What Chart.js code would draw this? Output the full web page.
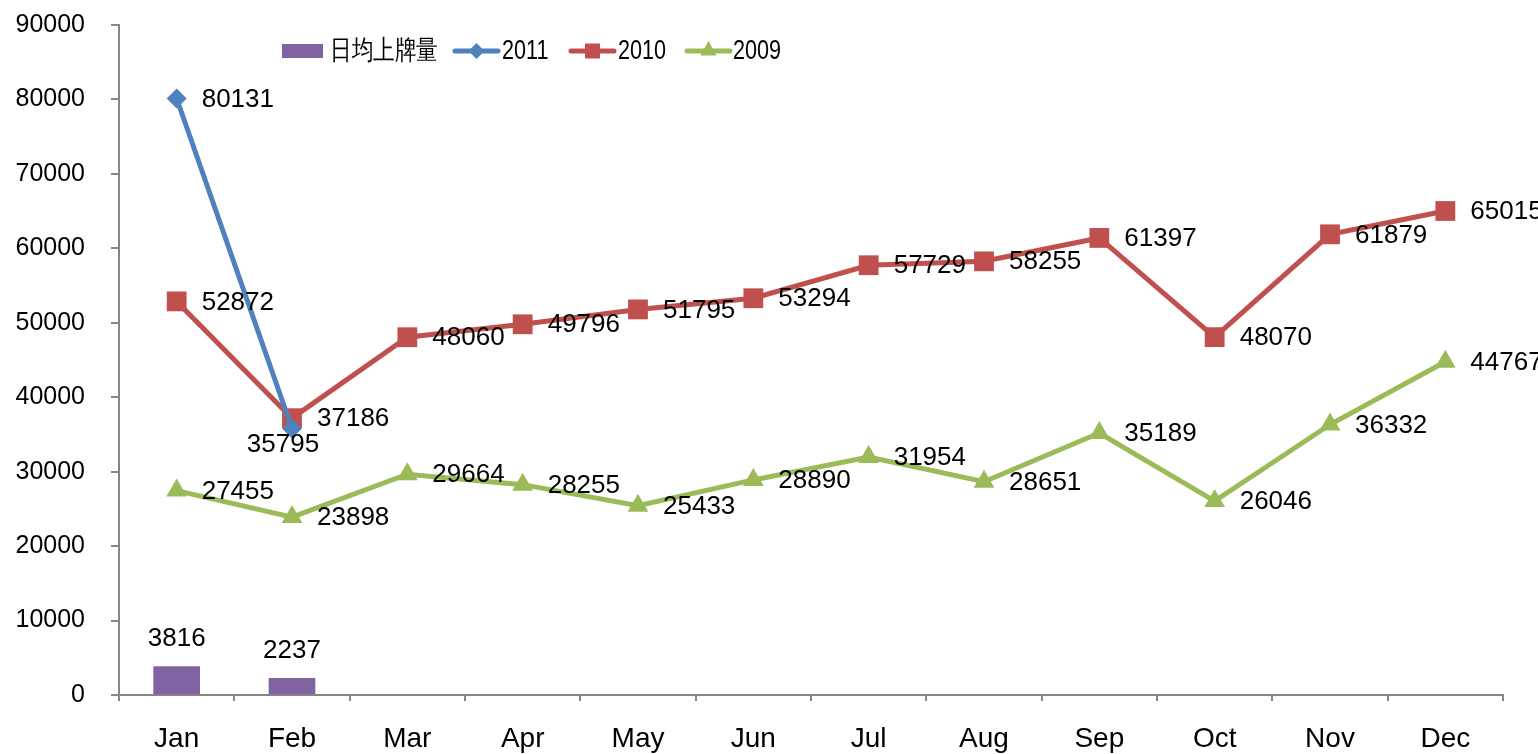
<!DOCTYPE html>
<html>
<head>
<meta charset="utf-8">
<script src="https://cdn.jsdelivr.net/npm/chart.js@4.4.1/dist/chart.umd.min.js"></script>
<style>
  html, body { margin: 0; padding: 0; background: #fff; }
  #wrap { width: 1538px; height: 754px; position: relative; }
</style>
</head>
<body>
<div id="wrap"><canvas id="chart"></canvas></div>
<script>
// chart data
const months = ['Jan', 'Feb', 'Mar', 'Apr', 'May', 'Jun', 'Jul', 'Aug', 'Sep', 'Oct', 'Nov', 'Dec'];
const dailyPlates = [3816, 2237, null, null, null, null, null, null, null, null, null, null];
const y2011 = [80131, 35795, null, null, null, null, null, null, null, null, null, null];
const y2010 = [52872, 37186, 48060, 49796, 51795, 53294, 57729, 58255, 61397, 48070, 61879, 65015];
const y2009 = [27455, 23898, 29664, 28255, 25433, 28890, 31954, 28651, 35189, 26046, 36332, 44767];
const yTicks = [0, 10000, 20000, 30000, 40000, 50000, 60000, 70000, 80000, 90000];

const FONT = 'Arial, "Liberation Sans", sans-serif';
const AXIS = '#868686';

// simple value labels, drawn next to each point / above each bar
const valueLabels = {
  id: 'valueLabels',
  afterDatasetsDraw(chart) {
    const ctx = chart.ctx;
    ctx.save();
    ctx.font = '26px ' + FONT;
    ctx.fillStyle = '#000';
    chart.data.datasets.forEach((ds, di) => {
      const meta = chart.getDatasetMeta(di);
      meta.data.forEach((el, i) => {
        const v = ds.data[i];
        if (v == null) return;
        const txt = String(v);
        if (ds.type === 'bar') {
          ctx.textAlign = 'center';
          ctx.textBaseline = 'middle';
          ctx.fillText(txt, el.x, el.y - 28);
        } else if (ds.labelBelow && ds.labelBelow[i]) {
          ctx.textAlign = 'center';
          ctx.textBaseline = 'middle';
          ctx.fillText(txt, el.x - 9, el.y + 16);
        } else {
          ctx.textAlign = 'left';
          ctx.textBaseline = 'middle';
          ctx.fillText(txt, el.x + 25, el.y + 1);
        }
      });
    });
    ctx.restore();
  }
};

// legend in excel style: line + marker
function drawMarker(ctx, style, x, y, r, color) {
  ctx.fillStyle = color;
  ctx.beginPath();
  if (style === 'rectRot') {
    ctx.moveTo(x, y - r); ctx.lineTo(x + r, y); ctx.lineTo(x, y + r); ctx.lineTo(x - r, y);
  } else if (style === 'rect') {
    ctx.rect(x - r, y - r, 2 * r, 2 * r);
  } else if (style === 'triangle') {
    ctx.moveTo(x, y - r); ctx.lineTo(x + r, y + r * 0.8); ctx.lineTo(x - r, y + r * 0.8);
  }
  ctx.closePath();
  ctx.fill();
}

const excelLegend = {
  id: 'excelLegend',
  afterDraw(chart) {
    const ctx = chart.ctx;
    const y = 51;
    const items = [
      { x: 282, ds: 0, textX: 330 },
      { x: 455, ds: 1, textX: 502 },
      { x: 571, ds: 2, textX: 618 },
      { x: 687, ds: 3, textX: 733 }
    ];
    ctx.save();
    items.forEach(it => {
      const ds = chart.data.datasets[it.ds];
      if (ds.type === 'bar') {
        ctx.fillStyle = ds.backgroundColor;
        ctx.fillRect(it.x, y - 7, 41, 14);
      } else {
        ctx.strokeStyle = ds.borderColor;
        ctx.lineWidth = 5;
        ctx.lineCap = 'round';
        ctx.beginPath();
        ctx.moveTo(it.x, y); ctx.lineTo(it.x + 43, y);
        ctx.stroke();
        drawMarker(ctx, ds.pointStyle, it.x + 21.5, y - (ds.pointStyle === 'triangle' ? 2 : 0), ds.pointStyle === 'rect' ? 7.5 : 8, ds.borderColor);
      }
      ctx.save();
      ctx.translate(it.textX, y);
      ctx.scale(0.8, 1);
      ctx.font = '27px ' + FONT;
      ctx.fillStyle = '#000';
      ctx.textAlign = 'left';
      ctx.textBaseline = 'middle';
      ctx.fillText(ds.label, 0, 1);
      ctx.restore();
    });
    ctx.restore();
  }
};

new Chart(document.getElementById('chart'), {
  data: {
    labels: months,
    datasets: [
      {
        type: 'bar', label: '日均上牌量', data: dailyPlates,
        backgroundColor: '#8064A2', barThickness: 46, order: 4
      },
      {
        type: 'line', label: '2011', data: y2011,
        borderColor: '#4F81BD', backgroundColor: '#4F81BD', borderWidth: 5,
        pointStyle: 'rectRot', pointRadius: 10, pointBorderWidth: 0,
        labelBelow: [false, true], order: 1
      },
      {
        type: 'line', label: '2010', data: y2010,
        borderColor: '#C0504D', backgroundColor: '#C0504D', borderWidth: 5,
        pointStyle: 'rect', pointRadius: 14, pointBorderWidth: 0, order: 2
      },
      {
        type: 'line', label: '2009', data: y2009,
        borderColor: '#9BBB59', backgroundColor: '#9BBB59', borderWidth: 5,
        pointStyle: 'triangle', pointRadius: 12, pointBorderWidth: 0, order: 3
      }
    ]
  },
  options: {
    responsive: true,
    maintainAspectRatio: false,
    animation: false,
    layout: { padding: { top: 25, right: 35, left: 0, bottom: 0 } },
    plugins: { legend: { display: false }, tooltip: { enabled: false } },
    scales: {
      x: {
        offset: true,
        grid: { drawOnChartArea: false, drawTicks: true, tickLength: 6, color: AXIS, offset: true, lineWidth: 2 },
        border: { color: AXIS, width: 2 },
        ticks: { color: '#000', font: { family: FONT, size: 28 }, padding: 21, maxRotation: 0 },
        afterFit(s) { s.height = 59; s.paddingLeft = 0; s.paddingRight = 0; }
      },
      y: {
        min: 0, max: 90000,
        afterBuildTicks(s) { s.ticks = yTicks.map(v => ({ value: v })); },
        grid: { drawOnChartArea: false, drawTicks: true, tickLength: 8, color: AXIS, lineWidth: 2 },
        border: { color: AXIS, width: 2 },
        ticks: { color: '#000', font: { family: FONT, size: 25 }, padding: 26, callback: v => String(v) },
        afterFit(s) { s.width = 119; s.paddingTop = 0; s.paddingBottom = 0; }
      }
    }
  },
  plugins: [valueLabels, excelLegend]
});
</script>
</body>
</html>
